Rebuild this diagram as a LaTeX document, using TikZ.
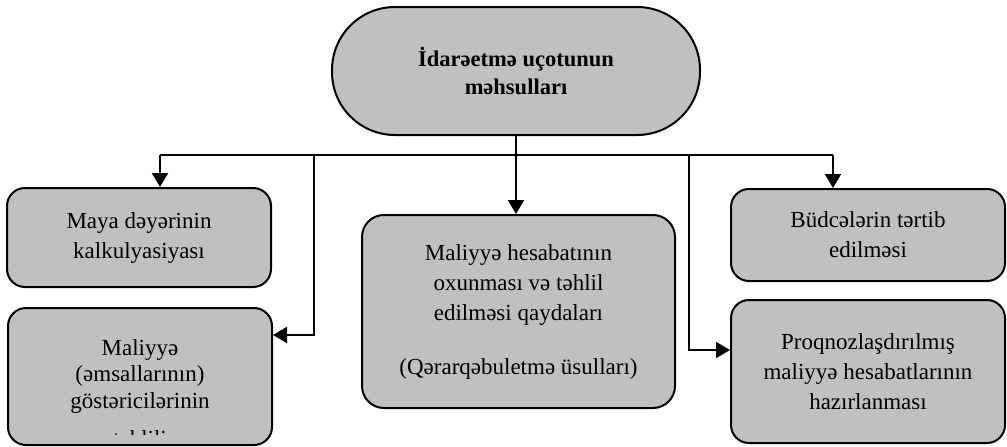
\documentclass[tikz,border=0pt]{standalone}
\usepackage{fontspec}
\setmainfont{Liberation Serif}
\usetikzlibrary{arrows.meta}
\definecolor{boxgray}{RGB}{192,192,192}
\begin{document}
\begin{tikzpicture}[x=1pt,y=-1pt,
  box/.style={draw=black, line width=2pt, fill=boxgray, rounded corners=18pt, inner sep=0pt},
  txt/.style={align=center, font=\fontsize{23}{30}\selectfont, inner sep=0pt},
  link/.style={line width=2pt},
  arr/.style={line width=2pt, -{Triangle[length=14pt,width=16pt]}}]
\useasboundingbox (0,0) rectangle (1007,447);

% top node
\node[draw=black, line width=2pt, fill=boxgray, rounded corners=63pt,
      minimum width=368pt, minimum height=128pt, inner sep=0pt,
      align=center, font=\fontsize{22.5}{28}\selectfont\bfseries]
  (top) at (516,71) {İdarəetmə uçotunun\\məhsulları};

% boxes
\node[box, minimum width=264pt, minimum height=99pt, txt] (A) at (139,237.5)
  {Maya dəyərinin\\kalkulyasiyası};
\node[box, minimum width=264pt, minimum height=137pt] (B) at (140,376.5) {};
\node[box, rounded corners=22pt, minimum width=313pt, minimum height=193pt, txt] (C) at (518.5,311.5)
  {Maliyyə hesabatının\\oxunması və təhlil\\edilməsi qaydaları\\[24pt](Qərarqəbuletmə üsulları)};
\node[box, minimum width=274pt, minimum height=92pt, txt] (D) at (868,235)
  {Büdcələrin tərtib\\edilməsi};
\node[box, minimum width=274pt, minimum height=143pt, txt] (E) at (868,371.5)
  {Proqnozlaşdırılmış\\maliyyə hesabatlarının\\hazırlanması};

% text of B, clipped by its frame
\begin{scope}
  \clip (10,310) rectangle (270,434);
  \node[txt, font=\fontsize{23}{26.5}\selectfont, anchor=north] (Bt) at (140,339)
    {Maliyyə\\(əmsallarının)\\göstəricilərinin\\[11.5pt]təhlili};
\end{scope}

% connectors
\coordinate (hub) at (top.south |- 0,155);
\coordinate (hA) at (160,155);
\coordinate (hB) at (314,155);
\coordinate (hE) at (689,155);
\coordinate (hD) at (833,155);
\coordinate (bB) at (314,335);
\coordinate (bE) at (689,350);

\draw[link] (top.south) -- (hub);
\draw[link] (hA) -- (hD);
\draw[arr] (hA) -- (hA |- A.north);
\draw[arr] (hB) -- (bB) -- (B.east |- bB);
\draw[arr] (hub) -- (hub |- C.north);
\draw[arr] (hE) -- (bE) -- (E.west |- bE);
\draw[arr] (hD) -- (hD |- D.north);
\end{tikzpicture}
\end{document}
